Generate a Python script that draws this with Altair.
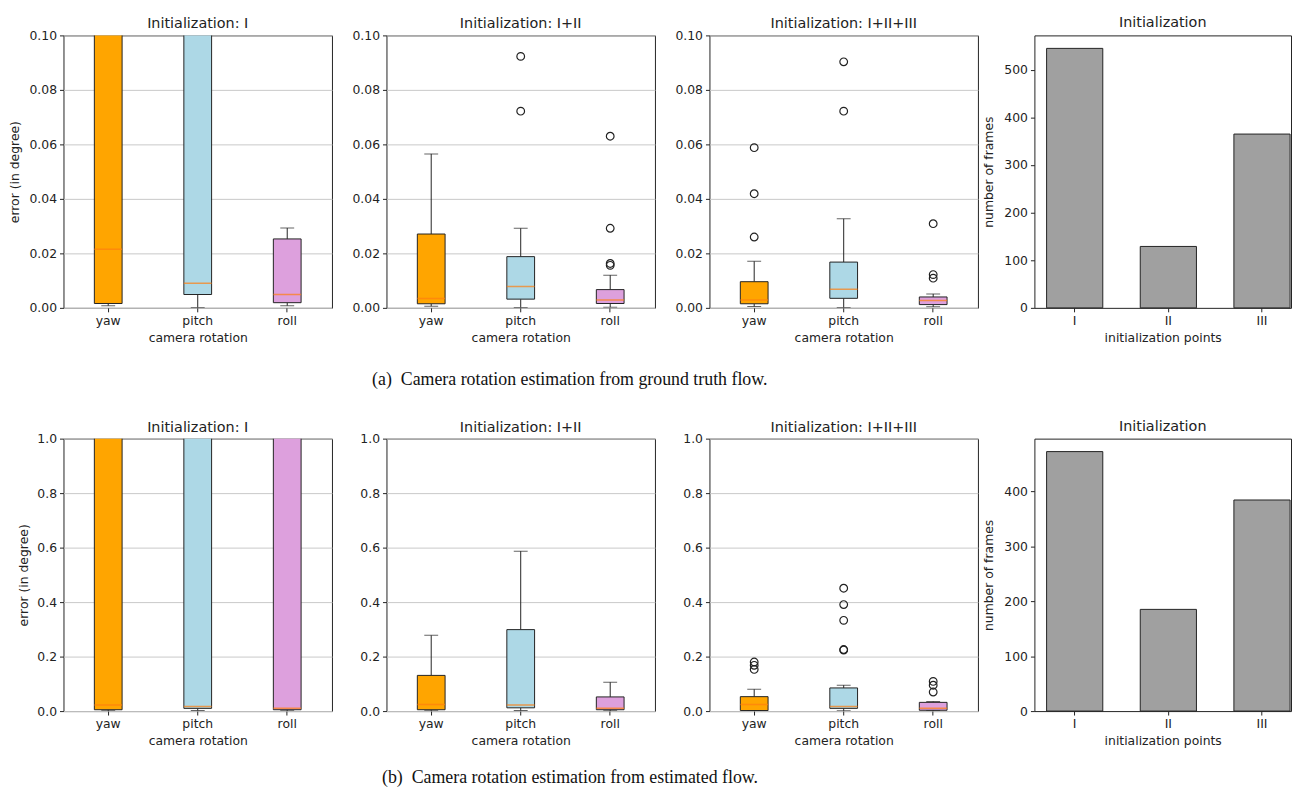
import altair as alt
import pandas as pd

CATS = ["yaw", "pitch", "roll"]
BOX_COLORS = ["#ffa500", "#add8e6", "#dda0dd"]
PANEL_TITLES = ["Initialization: I", "Initialization: I+II", "Initialization: I+II+III"]
INIT_POINTS = ["I", "II", "III"]

# (a) ground truth flow: one inner list per panel, values for [yaw, pitch, roll]
GT_Q1 = [[0.0016, 0.0049, 0.0019], [0.0015, 0.0032, 0.0016], [0.0015, 0.0035, 0.0012]]
GT_MED = [[0.0215, 0.0090, 0.0049], [0.0034, 0.0078, 0.0029], [0.0029, 0.0068, 0.0027]]
GT_Q3 = [[0.20, 0.20, 0.0253], [0.0271, 0.0188, 0.0067], [0.0096, 0.0168, 0.0040]]
GT_WLO = [[0.0008, 0.0001, 0.0008], [0.0006, 0.0001, 0.0002], [0.0005, 0.0001, 0.0004]]
GT_WHI = [[0.20, 0.20, 0.0293], [0.0565, 0.0292, 0.0120], [0.0171, 0.0327, 0.0051]]
GT_OUT = [
    [[], [], []],
    [[], [0.0923, 0.0722], [0.0630, 0.0292, 0.0163, 0.0156]],
    [[0.0588, 0.0419, 0.0260], [0.0903, 0.0722], [0.0309, 0.0122, 0.0109]],
]
GT_TICKS = [0.0, 0.02, 0.04, 0.06, 0.08, 0.10]
GT_YMAX = 0.10
GT_COUNTS = [545, 129, 365]
GT_COUNT_TICKS = [0, 100, 200, 300, 400, 500]

# (b) estimated flow
EST_Q1 = [[0.005, 0.010, 0.005], [0.005, 0.012, 0.005], [0.002, 0.010, 0.003]]
EST_MED = [[0.022, 0.017, 0.010], [0.024, 0.022, 0.010], [0.024, 0.017, 0.010]]
EST_Q3 = [[2.0, 2.0, 2.0], [0.131, 0.299, 0.052], [0.053, 0.085, 0.032]]
EST_WLO = [[0.001, 0.002, 0.001], [0.001, 0.002, 0.001], [0.001, 0.001, 0.001]]
EST_WHI = [[2.0, 2.0, 2.0], [0.278, 0.587, 0.106], [0.080, 0.095, 0.035]]
EST_OUT = [
    [[], [], []],
    [[], [], []],
    [[0.180, 0.168, 0.153], [0.451, 0.391, 0.333, 0.226, 0.224], [0.109, 0.095, 0.070]],
]
EST_TICKS = [0.0, 0.2, 0.4, 0.6, 0.8, 1.0]
EST_YMAX = 1.0
EST_COUNTS = [472, 185, 384]
EST_COUNT_TICKS = [0, 100, 200, 300, 400]

CAPTION_A = "(a)\u00a0\u00a0Camera rotation estimation from ground truth flow."
CAPTION_B = "(b)\u00a0\u00a0Camera rotation estimation from estimated flow."

INK = "#222222"
PW, PH = 271, 275
BAR_W = 259
FS = 12.5
BOX_EXT = 35
BAR_EXT = 31


def panel_title(text, offset):
    return alt.TitleParams(text, fontSize=14.5, font="DejaVu Sans", fontWeight="normal",
                           color=INK, offset=offset, anchor="middle", frame="group")


def box_panel(i, q1, med, q3, wlo, whi, outs, ticks, fmt, ymax, p1_ext, p1_pad):
    df = pd.DataFrame({"cat": CATS, "q1": q1[i], "med": med[i], "q3": q3[i],
                       "wlo": wlo[i], "whi": whi[i]})
    rows = [{"cat": c, "v": v} for c, vals in zip(CATS, outs[i]) for v in vals]
    x = alt.X("cat:N", sort=CATS,
              scale=alt.Scale(domain=CATS, paddingInner=0.69, paddingOuter=0.345),
              axis=alt.Axis(title="camera rotation", labelAngle=0, grid=False, titlePadding=4))
    if i == 0:
        yaxis = alt.Axis(values=ticks, format=fmt, grid=True, title="error (in degree)",
                         titlePadding=p1_pad, minExtent=p1_ext, maxExtent=p1_ext)
    else:
        yaxis = alt.Axis(values=ticks, format=fmt, grid=True, title=None,
                         minExtent=BOX_EXT, maxExtent=BOX_EXT)

    def y(field):
        return alt.Y(field, scale=alt.Scale(domain=[0, ymax], nice=False, zero=False),
                     axis=yaxis)

    base = alt.Chart(df)
    w_up = base.mark_rule(color=INK, strokeWidth=1, clip=True).encode(x=x, y=y("q3:Q"), y2="whi:Q")
    w_lo = base.mark_rule(color=INK, strokeWidth=1, clip=True).encode(x=x, y=y("wlo:Q"), y2="q1:Q")
    box = base.mark_bar(stroke=INK, strokeWidth=1, clip=True).encode(
        x=x, y=y("q1:Q"), y2="q3:Q",
        color=alt.Color("cat:N", scale=alt.Scale(domain=CATS, range=BOX_COLORS), legend=None))
    median = base.mark_tick(color="#ff7f0e", thickness=1.5, size=28, orient="horizontal",
                            clip=True).encode(x=x, y=y("med:Q"))
    cap_up = base.mark_tick(color=INK, thickness=1, size=14, orient="horizontal",
                            clip=True).encode(x=x, y=y("whi:Q"))
    cap_lo = base.mark_tick(color=INK, thickness=1, size=14, orient="horizontal",
                            clip=True).encode(x=x, y=y("wlo:Q"))
    layers = [w_up, w_lo, box, median, cap_up, cap_lo]
    if rows:
        fl = alt.Chart(pd.DataFrame(rows)).mark_point(
            shape="circle", filled=False, color=INK, size=60, strokeWidth=1.2, opacity=1,
            clip=True).encode(x=x, y=y("v:Q"))
        layers.append(fl)
    return alt.layer(*layers).properties(width=PW, height=PH,
                                         title=panel_title(PANEL_TITLES[i], -2.5))


def count_panel(counts, ticks):
    df = pd.DataFrame({"pt": INIT_POINTS, "n": counts})
    return alt.Chart(df).mark_bar(color="#a0a0a0", stroke=INK, strokeWidth=1).encode(
        x=alt.X("pt:N", sort=INIT_POINTS,
                scale=alt.Scale(paddingInner=0.4, paddingOuter=0.07, align=0.93),
                axis=alt.Axis(title="initialization points", labelAngle=0, grid=False,
                              titlePadding=4)),
        y=alt.Y("n:Q", scale=alt.Scale(domain=[0, max(counts) * 1.05], nice=False),
                axis=alt.Axis(values=ticks, format="d", grid=False, title="number of frames",
                              titlePadding=8, minExtent=BAR_EXT, maxExtent=BAR_EXT)),
    ).properties(width=BAR_W, height=PH, title=panel_title("Initialization", 4.5))


def caption(text, offset):
    return alt.TitleParams(text, orient="bottom", font="Liberation Serif", fontSize=18,
                           fontWeight="normal", color="#111111", anchor="middle", dx=-81,
                           offset=offset)


def row(q1, med, q3, wlo, whi, outs, ticks, fmt, ymax, counts, cticks, cap, cap_off,
        p1_ext, p1_pad):
    boxes = alt.hconcat(*[box_panel(i, q1, med, q3, wlo, whi, outs, ticks, fmt, ymax,
                                    p1_ext, p1_pad) for i in range(3)], spacing=18)
    return alt.hconcat(boxes, count_panel(counts, cticks), spacing=3).properties(
        title=caption(cap, cap_off))


row_a = row(GT_Q1, GT_MED, GT_Q3, GT_WLO, GT_WHI, GT_OUT, GT_TICKS, ".2f", GT_YMAX,
            GT_COUNTS, GT_COUNT_TICKS, CAPTION_A, 27, BOX_EXT, 7)
row_b = row(EST_Q1, EST_MED, EST_Q3, EST_WLO, EST_WHI, EST_OUT, EST_TICKS, ".1f", EST_YMAX,
            EST_COUNTS, EST_COUNT_TICKS, CAPTION_B, 22, 54.5, -20.75)

chart = alt.vconcat(row_a, row_b, spacing=29).properties(
    padding={"left": 0, "top": 3, "right": 0, "bottom": 0},
    background="white",
).configure_view(
    stroke=INK, strokeWidth=1
).configure_axis(
    labelFont="DejaVu Sans", labelFontSize=FS, labelColor=INK,
    titleFont="DejaVu Sans", titleFontSize=FS, titleFontWeight="normal", titleColor=INK,
    tickColor=INK, tickSize=4, tickWidth=1, labelPadding=3, domain=False,
    gridColor="#c8c8c8", gridWidth=1,
)

chart.save("out.html", embed_options={"renderer": "svg", "actions": False})
